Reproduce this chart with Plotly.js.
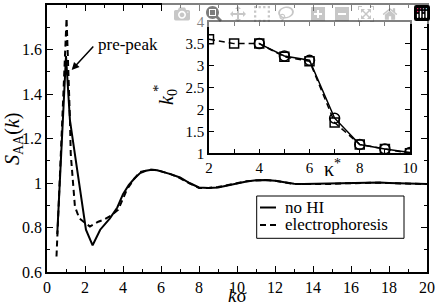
<!DOCTYPE html>
<html><head><meta charset="utf-8">
<script src="https://cdn.plot.ly/plotly-3.0.1.min.js"></script>
</head><body style="margin:0;padding:0;background:#fff"><div id="c" style="width:436px;height:305px"></div>
<script>
// main plot: S_AA(k)
var kNoHI = [0.54, 1.0, 1.21, 2.05, 2.4, 2.8, 3.3, 3.7, 4.0, 4.3, 4.6, 4.9, 5.2, 5.5, 5.8, 6.1, 6.5, 7.0, 7.5, 8.0, 8.5, 9.0, 9.5, 10.0, 10.5, 11.0, 11.5, 12.0, 12.5, 13.0, 13.5, 14.0, 14.5, 15.0, 15.5, 16.0, 16.5, 17.0, 17.5, 18.0, 18.5, 19.0, 19.5, 20.0];
var sNoHI = [0.77, 1.57, 1.28, 0.79, 0.72, 0.79, 0.84, 0.89, 0.95, 0.99, 1.02, 1.045, 1.055, 1.06, 1.057, 1.05, 1.04, 1.025, 1.0, 0.98, 0.977, 0.98, 0.99, 1.0, 1.007, 1.012, 1.013, 1.01, 1.004, 0.997, 0.995, 0.996, 0.995, 0.997, 0.998, 0.999, 1.0, 1.001, 1.002, 1.0, 0.999, 0.998, 0.997, 0.995];
var kElec = [0.5, 1.03, 1.21, 1.25, 1.47, 1.7, 2.26, 2.7, 2.96, 3.3, 3.75, 4.2, 4.6, 4.9, 5.2, 5.4, 5.8, 6.1, 6.5, 7.0, 7.5, 8.0, 8.5, 9.0, 9.5, 10.0, 10.5, 11.0, 11.5, 12.0, 12.5, 13.0, 13.5, 14.0, 14.5, 15.0, 15.5, 16.0, 16.5, 17.0, 17.5, 18.0, 18.5, 19.0, 19.5, 20.0];
var sElec = [0.67, 1.74, 1.28, 1.13, 0.894, 0.841, 0.804, 0.826, 0.834, 0.85, 0.88, 0.97, 1.02, 1.05, 1.055, 1.06, 1.058, 1.05, 1.04, 1.022, 0.998, 0.978, 0.978, 0.982, 0.99, 1.0, 1.008, 1.011, 1.014, 1.01, 1.003, 0.996, 0.996, 0.995, 0.996, 0.996, 0.998, 1.0, 1.0, 1.001, 1.001, 1.0, 0.999, 0.998, 0.997, 0.995];
// inset: k0* vs kappa*
var kappaElec = [2, 3, 4, 5, 6, 7, 8, 9, 10];
var k0Elec = [3.6, 3.5, 3.5, 3.2, 3.1, 1.7, 1.2, 1.1, 1.0];
var kappaNoHI = [4, 5, 6, 7, 8, 9, 10];
var k0NoHI = [3.5, 3.22, 3.12, 1.8, 1.2, 1.1, 1.02];
var legendNames = ["no HI", "electrophoresis"];

(function () {
  var FAM = "Liberation Serif";
  var traces = [
    {x: kNoHI, y: sNoHI, mode: "lines", name: legendNames[0], line: {color: "#000", width: 2}},
    {x: kElec, y: sElec, mode: "lines", name: legendNames[1], line: {color: "#000", width: 2, dash: "6px,4px"}},
    {x: kappaElec, y: k0Elec, mode: "lines+markers", showlegend: false, xaxis: "x2", yaxis: "y2",
     line: {color: "#000", width: 1.5, dash: "6px,4px"}, marker: {symbol: "square-open", size: 9, color: "#000", line: {width: 1.5}}},
    {x: kappaNoHI, y: k0NoHI, mode: "lines+markers", showlegend: false, xaxis: "x2", yaxis: "y2",
     line: {color: "#000", width: 1.5}, marker: {symbol: "circle-open", size: 10, color: "#000", line: {width: 1.5}}}
  ];
  var axBase = {showgrid: false, zeroline: false, showline: true, linecolor: "#000", linewidth: 1.5,
    mirror: "allticks", ticks: "inside", ticklen: 6, tickwidth: 1, tickcolor: "#000"};
  function toPX(x) { return (x - 47) / 380; }
  function toPY(y) { return (272 - y) / 267; }
  var layout = {
    width: 436, height: 305, margin: {l: 47, r: 9, t: 5, b: 33},
    paper_bgcolor: "#fff", plot_bgcolor: "#fff",
    font: {family: FAM, size: 15},
    showlegend: false,
    xaxis: Object.assign({}, axBase, {range: [0, 20], dtick: 2, tick0: 0,
      minor: {dtick: 1, ticks: "inside", ticklen: 3, tickcolor: "#000"},
      tickfont: {family: FAM, size: 16, color: "#000"}}),
    yaxis: Object.assign({}, axBase, {range: [0.6, 1.8], dtick: 0.2, tick0: 0,
      minor: {dtick: 0.1, ticks: "inside", ticklen: 3, tickcolor: "#000"},
      tickfont: {family: FAM, size: 16, color: "#000"}}),
    xaxis2: Object.assign({}, axBase, {domain: [0.4263, 0.9553], anchor: "y2", range: [2, 10], dtick: 2, tick0: 2,
      ticklen: 5, minor: {dtick: 1, ticks: "inside", ticklen: 5, tickcolor: "#000"},
      tickfont: {family: FAM, size: 15, color: "#000"}}),
    yaxis2: Object.assign({}, axBase, {domain: [0.4446, 0.9375], anchor: "x2", range: [1, 4], dtick: 0.5, tick0: 1,
      ticklen: 5, tickfont: {family: FAM, size: 15, color: "#000"}}),
    shapes: [
      {type: "rect", xref: "paper", yref: "paper", x0: toPX(256.7), x1: toPX(404), y0: toPY(238.3), y1: toPY(196),
       line: {color: "#000", width: 1}, fillcolor: "#fff", layer: "above"},
      {type: "line", xref: "paper", yref: "paper", x0: toPX(260), x1: toPX(276), y0: toPY(207.5), y1: toPY(207.5),
       line: {color: "#000", width: 2}, layer: "above"},
      {type: "line", xref: "paper", yref: "paper", x0: toPX(260), x1: toPX(278), y0: toPY(225), y1: toPY(225),
       line: {color: "#000", width: 2, dash: "6px,4px"}, layer: "above"}
    ],
    annotations: [
      {x: 1.3, y: 1.508, xref: "x", yref: "y", text: "", showarrow: true, arrowhead: 2, arrowsize: 1, arrowwidth: 1.5,
       arrowcolor: "#000", ax: 23, ay: -25, axref: "pixel", ayref: "pixel"},
      {x: toPX(96), y: toPY(44), xref: "paper", yref: "paper", text: "pre-peak", showarrow: false,
       xanchor: "left", yanchor: "middle", font: {family: FAM, size: 17, color: "#000"}},
      {x: toPX(237), y: toPY(295), xref: "paper", yref: "paper", text: "<i>k</i>σ", showarrow: false,
       xanchor: "center", yanchor: "middle", font: {family: FAM, size: 19, color: "#000"}},
      {x: toPX(13), y: toPY(139), xref: "paper", yref: "paper", text: "<i>S</i><sub>AA</sub>(<i>k</i>)", showarrow: false,
       textangle: -90, xanchor: "center", yanchor: "middle", font: {family: FAM, size: 20, color: "#000"}},
      {x: toPX(332), y: toPY(168), xref: "paper", yref: "paper", text: "κ<sup>*</sup>", showarrow: false,
       xanchor: "center", yanchor: "middle", font: {family: FAM, size: 20, color: "#000"}},
      {x: toPX(168), y: toPY(97), xref: "paper", yref: "paper", text: "<i>k</i><sub>0</sub>", showarrow: false,
       textangle: -90, xanchor: "center", yanchor: "middle", font: {family: FAM, size: 20, color: "#000"}},
      {x: toPX(158), y: toPY(88), xref: "paper", yref: "paper", text: "*", showarrow: false,
       textangle: -90, xanchor: "center", yanchor: "middle", font: {family: FAM, size: 15, color: "#000"}},
      {x: toPX(283), y: toPY(207), xref: "paper", yref: "paper", text: legendNames[0], showarrow: false,
       xanchor: "left", yanchor: "middle", font: {family: FAM, size: 17, color: "#000"}},
      {x: toPX(283), y: toPY(224), xref: "paper", yref: "paper", text: legendNames[1], showarrow: false,
       xanchor: "left", yanchor: "middle", font: {family: FAM, size: 17, color: "#000"}}
    ]
  };
  function draw() { return Plotly.newPlot("c", traces, layout); }
  if (document.fonts && document.fonts.load) {
    document.fonts.load('16px "Liberation Serif"').then(draw, draw);
  } else {
    draw();
  }
})();
</script></body></html>
